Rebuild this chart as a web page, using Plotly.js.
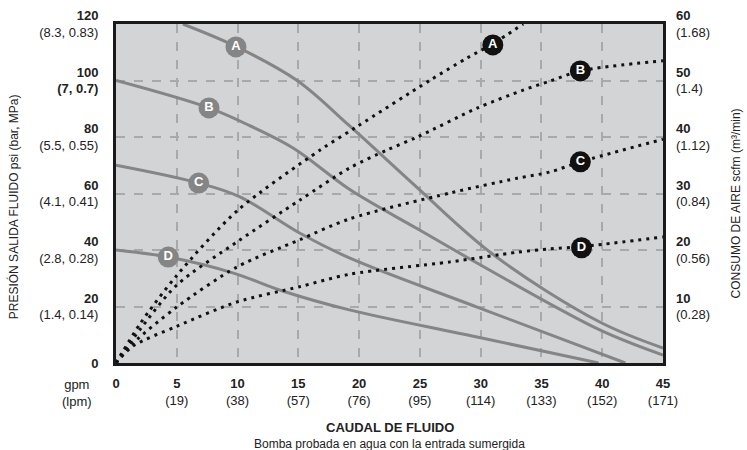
<!DOCTYPE html>
<html>
<head>
<meta charset="utf-8">
<script src="https://cdn.plot.ly/plotly-3.0.1.min.js"></script>
<style>
html,body{margin:0;padding:0;background:#fff;}
#chart{width:747px;height:450px;}
</style>
</head>
<body>
<div id="chart"></div>
<script>
// ---- Fluid pressure curves (psi, left axis) ----
const pressA_x = [5.5, 9.9, 14.9, 19.2, 24.8, 31, 39.8, 45];
const pressA_y = [120, 112, 100, 84, 62, 38.5, 14.5, 5.3];
const pressB_x = [0, 7.65, 11, 14.6, 19.2, 24.8, 29.7, 39.8, 45];
const pressB_y = [100, 90.3, 84, 76, 61.5, 47.5, 35.4, 11.7, 2.8];
const pressC_x = [0, 6.8, 10.2, 15.1, 19.2, 29.7, 41.9];
const pressC_y = [70, 63.7, 58.8, 46, 37.2, 19.8, 0];
const pressD_x = [0, 4.3, 9.6, 13.7, 19.2, 29.7, 39.7];
const pressD_y = [40, 37.5, 31.9, 25.5, 18.8, 9.2, 0];

// ---- Air consumption curves (scfm, right axis) ----
const airA_x = [0, 2, 5, 10, 16.8, 19.8, 25.8, 28.9, 31, 33.5];
const airA_y = [0, 7, 15.5, 27, 37.7, 41.8, 50, 54, 56.5, 60];
const airB_x = [0, 2, 5, 10, 15.1, 19.2, 22.3, 24.8, 29.7, 33.5, 35.7, 38.2, 45];
const airB_y = [0, 6, 13.8, 21.5, 28.8, 34.5, 37.7, 40, 45.1, 48.3, 49.9, 51.7, 53.5];
const airC_x = [0, 1.4, 5, 9.95, 15.1, 19.2, 27.5, 33, 35.7, 38.2, 45];
const airC_y = [0, 3.5, 9.9, 17, 21.8, 25.5, 30.1, 32.7, 33.8, 35.6, 39.6];
const airD_x = [0, 1.4, 5, 9.95, 15.1, 19.2, 27.5, 33, 35.7, 38.3, 45];
const airD_y = [0, 3, 6.5, 10.8, 13.5, 15.7, 17.9, 19.6, 20.2, 20.6, 22.3];

// ---- Curve labels ----
const labelNames = ['A', 'B', 'C', 'D'];
const pressLabel_x = [9.87, 7.65, 6.8, 4.3];
const pressLabel_y = [111.9, 90.3, 63.7, 37.5];
const airLabel_x = [31, 38.2, 38.2, 38.3];
const airLabel_y = [56.3, 51.7, 35.6, 20.4];

// ---- Tick labels ----
const xTickVals = [0, 5, 10, 15, 20, 25, 30, 35, 40, 45];
const xTickText = ['<b>0</b>', '<b>5</b><br>(19)', '<b>10</b><br>(38)', '<b>15</b><br>(57)', '<b>20</b><br>(76)',
  '<b>25</b><br>(95)', '<b>30</b><br>(114)', '<b>35</b><br>(133)', '<b>40</b><br>(152)', '<b>45</b><br>(171)'];
const yTickVals = [0, 20, 40, 60, 80, 100, 120];
const yTickText = ['<b>0</b>', '<b>20</b><br>(1.4, 0.14)', '<b>40</b><br>(2.8, 0.28)', '<b>60</b><br>(4.1, 0.41)',
  '<b>80</b><br>(5.5, 0.55)', '<b>100<br>(7, 0.7)</b>', '<b>120</b><br>(8.3, 0.83)'];
const y2TickVals = [10, 20, 30, 40, 50, 60];
const y2TickText = ['<b>10</b><br>(0.28)', '<b>20</b><br>(0.56)', '<b>30</b><br>(0.84)', '<b>40</b><br>(1.12)',
  '<b>50</b><br>(1.4)', '<b>60</b><br>(1.68)'];

const FONT = '"Liberation Sans", Arial, Helvetica, sans-serif';
const TXT = '#222222';
const GRAY = '#858585';
const DOTC = '#111111';

function solid(x, y) {
  return {x: x, y: y, type: 'scatter', mode: 'lines', yaxis: 'y',
    line: {color: GRAY, width: 3, shape: 'spline', smoothing: 1}, hoverinfo: 'skip', showlegend: false};
}
function dotted(x, y) {
  return {x: x, y: y, type: 'scatter', mode: 'lines', yaxis: 'y2',
    line: {color: DOTC, width: 3, dash: '3px,5px', shape: 'spline', smoothing: 0.8}, hoverinfo: 'skip', showlegend: false};
}

const data = [
  solid(pressA_x, pressA_y), solid(pressB_x, pressB_y), solid(pressC_x, pressC_y), solid(pressD_x, pressD_y),
  dotted(airA_x, airA_y), dotted(airB_x, airB_y), dotted(airC_x, airC_y), dotted(airD_x, airD_y),
  {x: pressLabel_x, y: pressLabel_y, text: labelNames.map(s => '<b>' + s + '</b>'), type: 'scatter', mode: 'markers+text',
    yaxis: 'y', marker: {size: 21, color: GRAY}, textposition: 'middle center',
    textfont: {family: FONT, size: 13, color: '#ffffff'}, hoverinfo: 'skip', showlegend: false, cliponaxis: false},
  {x: airLabel_x, y: airLabel_y, text: labelNames.map(s => '<b>' + s + '</b>'), type: 'scatter', mode: 'markers+text',
    yaxis: 'y2', marker: {size: 21, color: DOTC}, textposition: 'middle center',
    textfont: {family: FONT, size: 13, color: '#ffffff'}, hoverinfo: 'skip', showlegend: false, cliponaxis: false}
];

const layout = {
  width: 747, height: 450,
  margin: {l: 116, r: 84, t: 24, b: 87},
  paper_bgcolor: '#ffffff', plot_bgcolor: '#d3d4d6',
  font: {family: FONT, size: 13, color: TXT},
  showlegend: false,
  xaxis: {
    range: [0, 45], tickvals: xTickVals, ticktext: xTickText, ticks: '', ticklabelstandoff: 6,
    showgrid: true, gridcolor: '#a9a9a9', gridwidth: 2, griddash: 'dash', zeroline: false,
    showline: true, linecolor: '#1a1a1a', linewidth: 3, mirror: true,
    tickfont: {family: FONT, size: 13, color: TXT}
  },
  yaxis: {
    range: [0, 120], tickvals: yTickVals, ticktext: yTickText, ticks: '', ticklabelstandoff: 12,
    showgrid: true, gridcolor: '#a9a9a9', gridwidth: 2, griddash: 'dash', zeroline: false,
    showline: true, linecolor: '#1a1a1a', linewidth: 3, mirror: true,
    tickfont: {family: FONT, size: 13, color: TXT}
  },
  yaxis2: {
    range: [0, 60], overlaying: 'y', side: 'right', tickvals: y2TickVals, ticktext: y2TickText, ticks: '',
    ticklabelstandoff: 12, showgrid: false, zeroline: false, showline: false,
    tickfont: {family: FONT, size: 13, color: TXT}
  },
  annotations: [
    {xref: 'paper', yref: 'paper', x: -0.04, y: -0.035, xanchor: 'right', yanchor: 'top', align: 'center',
      text: 'gpm<br>(lpm)', showarrow: false, font: {family: FONT, size: 13, color: TXT}},
    {xref: 'paper', yref: 'paper', x: 0.5, y: -0.163, xanchor: 'center', yanchor: 'top',
      text: '<b>CAUDAL DE FLUIDO</b>', showarrow: false, font: {family: FONT, size: 13, color: TXT}},
    {xref: 'paper', yref: 'paper', x: 0.5, y: -0.213, xanchor: 'center', yanchor: 'top',
      text: 'Bomba probada en agua con la entrada sumergida', showarrow: false, font: {family: FONT, size: 12, color: TXT}},
    {xref: 'paper', yref: 'paper', x: -0.188, y: 0.46, xanchor: 'center', yanchor: 'middle', textangle: -90,
      text: 'PRESIÓN SALIDA FLUIDO psi (bar, MPa)', showarrow: false, font: {family: FONT, size: 12, color: TXT}},
    {xref: 'paper', yref: 'paper', x: 1.133, y: 0.47, xanchor: 'center', yanchor: 'middle', textangle: -90,
      text: 'CONSUMO DE AIRE scfm (m³/min)', showarrow: false, font: {family: FONT, size: 12, color: TXT}}
  ]
};

Plotly.newPlot('chart', data, layout, {staticPlot: true, displayModeBar: false});
</script>
</body>
</html>
